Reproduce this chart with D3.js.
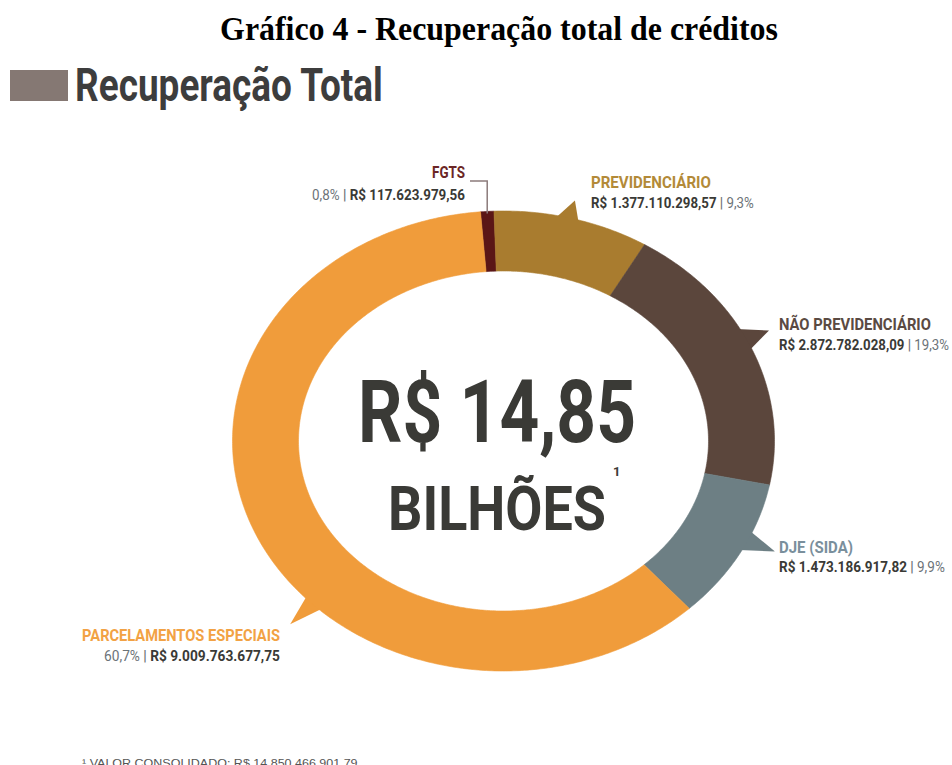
<!DOCTYPE html>
<html>
<head>
<meta charset="utf-8">
<script src="https://cdn.jsdelivr.net/npm/d3@7"></script>
<style>
  body { margin: 0; background: #fff; }
  svg { display: block; }
</style>
</head>
<body>
<div id="chart"></div>
<script>
// Data
var categories = ["FGTS", "PREVIDENCIÁRIO", "NÃO PREVIDENCIÁRIO", "DJE (SIDA)", "PARCELAMENTOS ESPECIAIS"];
var values = [117623979.56, 1377110298.57, 2872782028.09, 1473186917.82, 9009763677.75];
var valueLabels = ["R$ 117.623.979,56", "R$ 1.377.110.298,57", "R$ 2.872.782.028,09", "R$ 1.473.186.917,82", "R$ 9.009.763.677,75"];
var percentLabels = ["0,8%", "9,3%", "19,3%", "9,9%", "60,7%"];
var totalLabel = "R$ 14,85";
var unitLabel = "BILHÕES";
var footnote = "¹ VALOR CONSOLIDADO: R$ 14.850.466.901,79";

// Styles
var segColors = ["#5a1616", "#a97c2f", "#5b463c", "#6d7f84", "#f09c3b"];
var titleColors = ["#6b2626", "#b38a38", "#5a4a42", "#7a8f9c", "#f2a244"];
var darkText = "#3a3a36";
var pctColor = "#6c7378";
var condensed = "Roboto, 'Liberation Sans', sans-serif";

var width = 952, height = 765;
var cx = 503.5, cy = 441;
var rxO = 271, ryO = 230, rxI = 205, ryI = 170;

var svg = d3.select("#chart")
  .append("svg")
  .attr("width", width)
  .attr("height", height);

// draw text at natural width, then squeeze it horizontally to the wanted width
function fitText(x, y, anchor, w) {
  var grp = svg.append("g");
  var t = grp.append("text")
    .attr("x", 0)
    .attr("y", 0)
    .attr("text-anchor", anchor);
  t.fit = function() {
    var k = w / t.node().getComputedTextLength();
    grp.attr("transform", "translate(" + x + "," + y + ") scale(" + k + ",1)");
    return t;
  };
  return t;
}

// Page title
fitText(499, 40, "middle", 558)
  .style("font-family", "'Liberation Serif', 'Times New Roman', serif")
  .style("font-weight", "bold")
  .style("font-size", "34px")
  .style("fill", "#000")
  .text("Gráfico 4 - Recuperação total de créditos")
  .fit();

// Section header
svg.append("rect")
  .attr("x", 10).attr("y", 70)
  .attr("width", 58).attr("height", 31)
  .attr("fill", "#857873");

fitText(75, 101, "start", 308)
  .style("font-family", condensed)
  .style("font-weight", "bold")
  .style("font-size", "46px")
  .style("fill", "#3d3d3d")
  .text("Recuperação Total")
  .fit();

// Donut (elliptical ring)
var pie = d3.pie()
  .sort(null)
  .startAngle(-0.085)
  .endAngle(2 * Math.PI - 0.085);

var arcs = pie(values);

function ellPoint(a, rx, ry) {
  return [rx * Math.sin(a), -ry * Math.cos(a)];
}

function ringPath(a0, a1) {
  var n = Math.max(2, Math.ceil((a1 - a0) / 0.01));
  var outer = d3.range(n + 1).map(function(i) { return ellPoint(a0 + (a1 - a0) * i / n, rxO, ryO); });
  var inner = d3.range(n + 1).map(function(i) { return ellPoint(a1 - (a1 - a0) * i / n, rxI, ryI); });
  return d3.line()(outer.concat(inner)) + "Z";
}

var g = svg.append("g").attr("transform", "translate(" + cx + "," + cy + ")");

// pointer tails: base angles, apex angle, apex radius factor (null = no tail)
var pointers = [
  null,
  [0.183, 0.293, 0.247, 1.078],
  [1.043, 1.171, 1.115, 1.091],
  [1.969, 2.080, 2.018, 1.111],
  [3.878, 3.972, 3.921, 1.12]
];

g.selectAll("path.tail")
  .data(arcs.filter(function(d, i) { return pointers[i]; }))
  .enter()
  .append("path")
  .attr("class", "tail")
  .attr("d", function(d) {
    var p = pointers[d.index];
    var pts = [
      ellPoint(p[0], rxO * 0.97, ryO * 0.97),
      ellPoint(p[2], rxO * p[3], ryO * p[3]),
      ellPoint(p[1], rxO * 0.97, ryO * 0.97)
    ];
    return d3.line()(pts) + "Z";
  })
  .style("fill", function(d) { return segColors[d.index]; });

g.selectAll("path.seg")
  .data(arcs)
  .enter()
  .append("path")
  .attr("class", "seg")
  .attr("d", function(d) { return ringPath(d.startAngle, d.endAngle); })
  .style("fill", function(d) { return segColors[d.index]; })
  .style("stroke", function(d) { return segColors[d.index]; })
  .style("stroke-width", 0.6);

// FGTS leader line
var fg = arcs[0];
var fgTop = ellPoint((fg.startAngle + fg.endAngle) / 2, rxO, ryO);
svg.append("path")
  .attr("d", d3.line()([[470, 181], [cx + fgTop[0], 181], [cx + fgTop[0], cy + fgTop[1] + 2]]))
  .style("fill", "none")
  .style("stroke", "#8c7b7b")
  .style("stroke-width", 1.5);

// Label layout
var labelPos = [
  { x: 465, y: 178, anchor: "end", tw: 33, vy: 200, vw: 153, pctFirst: true },
  { x: 591, y: 188, anchor: "start", tw: 120, vy: 208, vw: 163, pctFirst: false },
  { x: 779, y: 330, anchor: "start", tw: 152, vy: 350, vw: 170, pctFirst: false },
  { x: 779, y: 553, anchor: "start", tw: 74, vy: 572, vw: 166, pctFirst: false },
  { x: 280, y: 641, anchor: "end", tw: 198, vy: 661, vw: 176, pctFirst: true }
];

categories.forEach(function(c, i) {
  var L = labelPos[i];
  fitText(L.x, L.y, L.anchor, L.tw)
    .style("font-family", condensed)
    .style("font-weight", "bold")
    .style("font-size", "17px")
    .style("fill", titleColors[i])
    .text(c)
    .fit();

  var t = fitText(L.x, L.vy, L.anchor, L.vw)
    .style("font-family", condensed)
    .style("font-size", "14px");

  if (L.pctFirst) {
    t.append("tspan").style("fill", pctColor).text(percentLabels[i] + " ");
    t.append("tspan").style("fill", pctColor).style("font-weight", "bold").text("| ");
    t.append("tspan").style("fill", darkText).style("font-weight", "bold").text(valueLabels[i]);
  } else {
    t.append("tspan").style("fill", darkText).style("font-weight", "bold").text(valueLabels[i] + (i === 3 ? "  " : " "));
    t.append("tspan").style("fill", pctColor).style("font-weight", "bold").text("| ");
    t.append("tspan").style("fill", pctColor).text(percentLabels[i]);
  }
  t.fit();
});

// Centre total
fitText(497, 442, "middle", 278)
  .style("font-family", condensed)
  .style("font-weight", "bold")
  .style("font-size", "87px")
  .style("fill", darkText)
  .text(totalLabel)
  .fit();

fitText(497, 530, "middle", 218)
  .style("font-family", condensed)
  .style("font-weight", "bold")
  .style("font-size", "61px")
  .style("fill", darkText)
  .text(unitLabel)
  .fit();

svg.append("text")
  .attr("x", 613)
  .attr("y", 476)
  .style("font-family", condensed)
  .style("font-weight", "bold")
  .style("font-size", "13px")
  .style("fill", darkText)
  .text("1");

// Footnote
fitText(82, 767, "start", 276)
  .style("font-family", "'Liberation Sans', Arial, sans-serif")
  .style("font-size", "11px")
  .style("fill", "#555")
  .text(footnote)
  .fit();
</script>
</body>
</html>
